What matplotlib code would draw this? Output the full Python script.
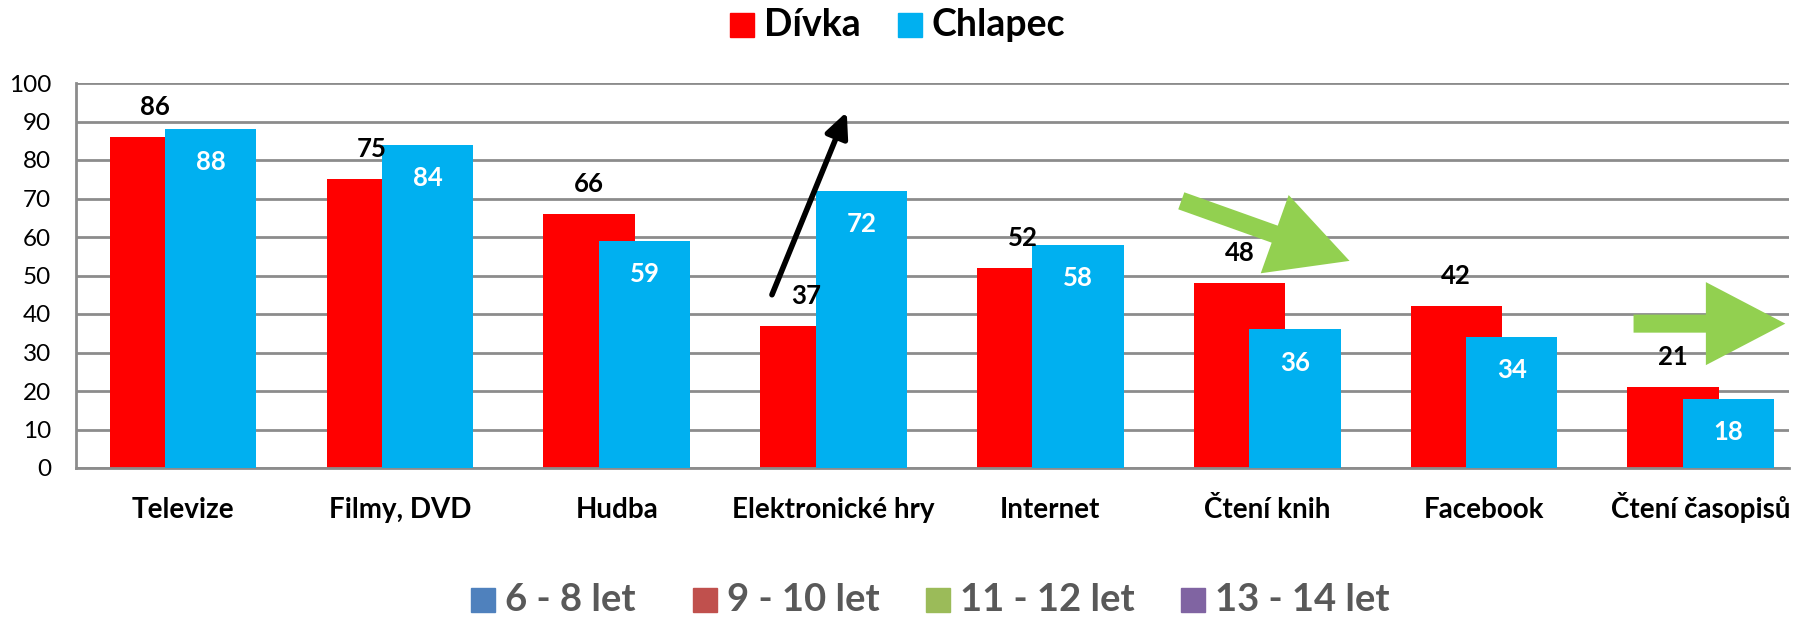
import matplotlib
matplotlib.use("Agg")
import matplotlib.pyplot as plt
from matplotlib.patches import Rectangle
import numpy as np

categories = ["Televize", "Filmy, DVD", "Hudba", "Elektronické hry", "Internet",
              "Čtení knih", "Facebook", "Čtení časopisů"]
divka = [86, 75, 66, 37, 52, 48, 42, 21]
chlapec = [88, 84, 59, 72, 58, 36, 34, 18]
series_names = ["Dívka", "Chlapec"]
age_groups = ["6 - 8 let", "9 - 10 let", "11 - 12 let", "13 - 14 let"]
yticks = [0, 10, 20, 30, 40, 50, 60, 70, 80, 90, 100]

RED = "#FF0000"
BLUE = "#00B0F0"
GREEN = "#92D050"
GRID = "#8C8C8C"
AGE_COLORS = ["#4F81BD", "#C0504D", "#9BBB59", "#8064A2"]
FONT = ["Lato", "DejaVu Sans"]

W, H = 1812, 617
fig = plt.figure(figsize=(W / 100, H / 100), dpi=100)
ax = fig.add_axes([76 / W, 1 - 468 / H, (1789 - 76) / W, (468 - 83) / H])

x = np.arange(len(categories))
bw = 0.421
off = 0.128
ax.bar(x - off, divka, width=bw, color=RED, zorder=2)
ax.bar(x + off, chlapec, width=bw, color=BLUE, zorder=3)

for xi, v in zip(x, divka):
    ax.text(xi - off, v + 7.8, str(v), ha="center", va="center", fontsize=18.5,
            fontweight="bold", color="black", family=FONT, zorder=5)
for xi, v in zip(x, chlapec):
    ax.text(xi + off, v - 8.6, str(v), ha="center", va="center", fontsize=18.5,
            fontweight="bold", color="white", family=FONT, zorder=5)

ax.set_xlim(-0.494, 7.407)
ax.set_ylim(0, 100)
ax.set_yticks(yticks)
ax.set_yticklabels([str(t) for t in yticks], family=FONT, fontsize=17.5)
ax.set_xticks(x)
ax.set_xticklabels(categories, family=FONT, fontsize=20, fontweight="bold")
for lab in ax.get_xticklabels():
    lab.set_verticalalignment("baseline")
ax.tick_params(axis="both", length=0)
ax.tick_params(axis="y", pad=18)
ax.tick_params(axis="x", pad=36)
ax.grid(axis="y", color=GRID, linewidth=2, zorder=0)
ax.set_axisbelow(True)
for s in ["top", "right"]:
    ax.spines[s].set_visible(False)
for s in ["left", "bottom"]:
    ax.spines[s].set_color(GRID)
    ax.spines[s].set_linewidth(2)

# annotation arrows
ax.annotate("", xy=(3.061, 92.5), xytext=(2.716, 45.0),
            arrowprops=dict(arrowstyle="-|>,head_length=1.5,head_width=0.7",
                            color="black", lw=4, shrinkA=0, shrinkB=0), zorder=6)
ax.annotate("", xy=(5.38, 53.8), xytext=(4.604, 69.4),
            arrowprops=dict(arrowstyle="simple,head_length=2.2,head_width=2.3,tail_width=0.5",
                            color=GREEN, lw=0, shrinkA=0, shrinkB=0, mutation_scale=26), zorder=6)
ax.annotate("", xy=(7.39, 37.5), xytext=(6.69, 37.5),
            arrowprops=dict(arrowstyle="simple,head_length=2.2,head_width=2.3,tail_width=0.5",
                            color=GREEN, lw=0, shrinkA=0, shrinkB=0, mutation_scale=26), zorder=6)

# legends drawn as squares + text
def legend_item(x0, y0, size, color, label, fs, tcolor):
    fig.patches.append(Rectangle((x0 / W, 1 - (y0 + size) / H), size / W, size / H,
                                 transform=fig.transFigure, color=color))
    fig.text((x0 + size + 10) / W, 1 - (y0 + size / 2) / H, label, ha="left", va="center",
             fontsize=fs, fontweight="bold", color=tcolor, family=FONT)

legend_item(730, 13, 24, RED, series_names[0], 27, "black")
legend_item(898, 13, 24, BLUE, series_names[1], 27, "black")

for xs, c, lab in zip([471, 693, 926, 1181], AGE_COLORS, age_groups):
    legend_item(xs, 588, 24, c, lab, 27.5, "#595959")

fig.savefig("out.png", dpi=100)
